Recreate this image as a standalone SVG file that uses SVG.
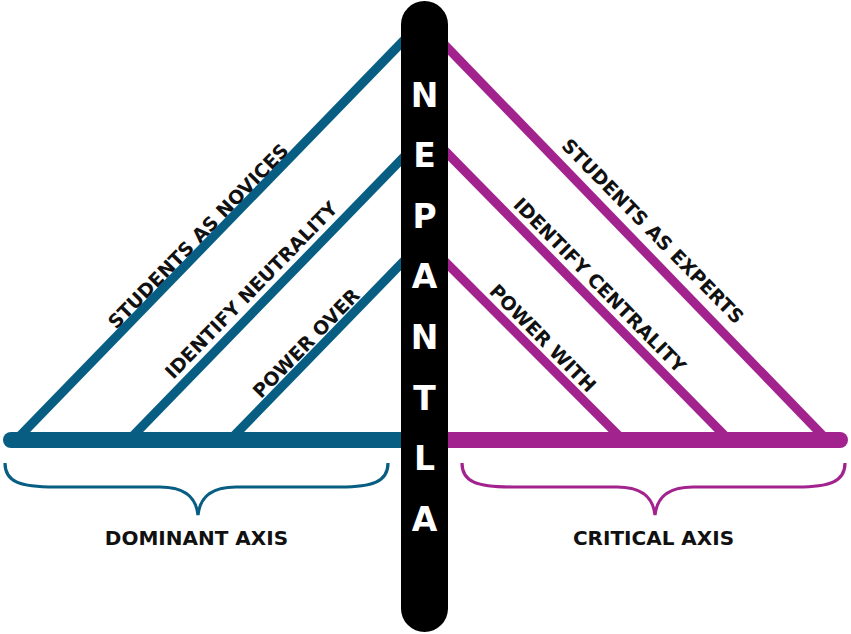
<svg xmlns="http://www.w3.org/2000/svg" width="851" height="634" viewBox="0 0 851 634">
<style>
.blue{stroke:#075e82;fill:none}
.mag{stroke:#a2238e;fill:none}
.diag{stroke-width:9}
.bar{stroke-width:16;stroke-linecap:round}
.brace{stroke-width:3.2}
.lbl{font-family:"DejaVu Sans",sans-serif;font-weight:bold;font-size:19px;fill:#111;text-anchor:middle}
.axis{font-family:"DejaVu Sans",sans-serif;font-weight:bold;font-size:20px;fill:#111;text-anchor:middle}
.pl{font-family:"DejaVu Sans",sans-serif;font-weight:bold;font-size:33px;fill:#fff;text-anchor:middle}
</style>
<rect width="851" height="634" fill="#fff"/>
<g id="connectors">
<line class="blue diag" x1="16" y1="440" x2="424.5" y2="19"/>
<line class="blue diag" x1="129" y1="440" x2="424.5" y2="135.7"/>
<line class="blue diag" x1="230" y1="440" x2="424.5" y2="239.7"/>
<line class="mag diag" x1="827" y1="440" x2="424.5" y2="24"/>
<line class="mag diag" x1="729" y1="440" x2="424.5" y2="130"/>
<line class="mag diag" x1="623" y1="440" x2="424.5" y2="241"/>
<path class="blue bar" d="M11 440H410"/>
<path class="mag bar" d="M440 440H840"/>
</g>
<g id="dominant-brace">
<path class="blue brace" d="M5 463C5 482 20 487 55 487H160C185 487 196 497 198 515C200 497 211 487 236 487H340C372 487 388 482 388 463"/>
<text class="axis" x="196.5" y="545">DOMINANT AXIS</text>
</g>
<g id="critical-brace">
<path class="mag brace" d="M462 463C462 482 477 487 512 487H617C642 487 653 497 655 515C657 497 668 487 693 487H797C829 487 845 482 845 463"/>
<text class="axis" x="653.5" y="545">CRITICAL AXIS</text>
</g>
<g id="labels-left">
<text class="lbl" transform="translate(198 236) rotate(-45.8)" x="0" y="7">STUDENTS AS NOVICES</text>
<text class="lbl" transform="translate(251 290) rotate(-45.8)" x="0" y="7">IDENTIFY NEUTRALITY</text>
<text class="lbl" transform="translate(306 343) rotate(-45.8)" x="0" y="7">POWER OVER</text>
</g>
<g id="labels-right">
<text class="lbl" transform="translate(653 231) rotate(45.5)" x="0" y="7">STUDENTS AS EXPERTS</text>
<text class="lbl" transform="translate(600 285) rotate(45.5)" x="0" y="7">IDENTIFY CENTRALITY</text>
<text class="lbl" transform="translate(543 338) rotate(45.5)" x="0" y="7">POWER WITH</text>
</g>
<g id="nepantla">
<rect x="401" y="1" width="47" height="631" rx="23.5" fill="#000"/>
<text class="pl" x="424.5" y="107">N</text>
<text class="pl" x="424.5" y="167">E</text>
<text class="pl" x="424.5" y="228">P</text>
<text class="pl" x="424.5" y="288">A</text>
<text class="pl" x="424.5" y="349">N</text>
<text class="pl" x="424.5" y="410">T</text>
<text class="pl" x="424.5" y="470">L</text>
<text class="pl" x="424.5" y="531">A</text>
</g>
</svg>
